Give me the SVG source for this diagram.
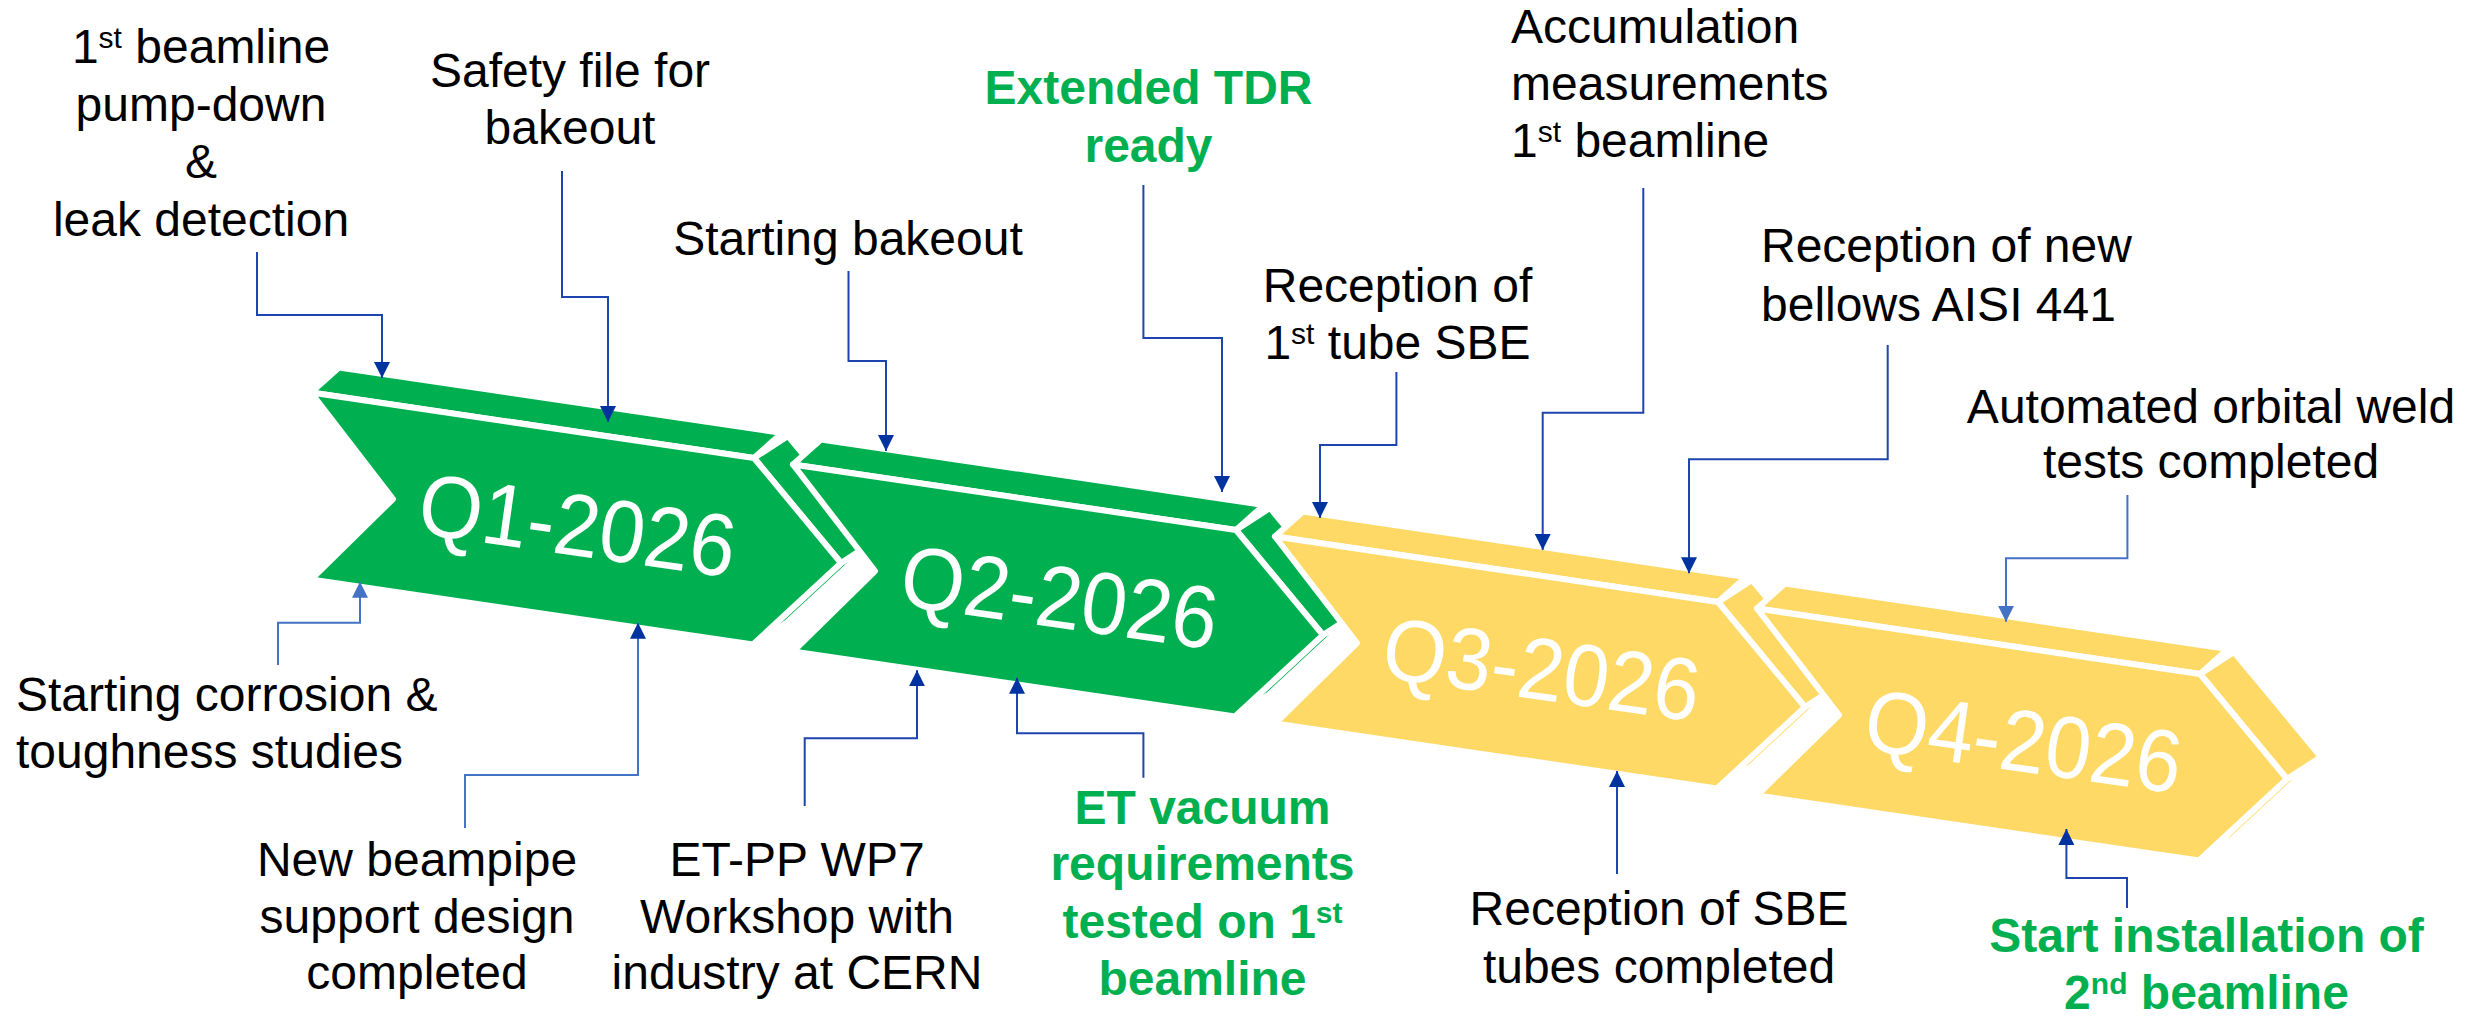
<svg xmlns="http://www.w3.org/2000/svg" width="2483" height="1021" viewBox="0 0 2483 1021">
<style>
.t{font-family:"Liberation Sans",Arial,sans-serif;font-size:48px;fill:#000}
.c{text-anchor:middle}
.g{fill:#00B050;font-weight:bold}
.q{font-family:"Liberation Sans",Arial,sans-serif;font-size:88px;fill:#fff;text-anchor:middle}
.face{stroke:#fff;stroke-width:6;stroke-linejoin:round}
.gr{fill:#00B050}
.ye{fill:#FFD966}
.ld{fill:none;stroke:#1E44B0;stroke-width:2;marker-end:url(#hd)}
.ll{fill:none;stroke:#4472C4;stroke-width:2;marker-end:url(#hl)}
.lm{fill:none;stroke:#4472C4;stroke-width:2;marker-end:url(#hd)}
</style>
<defs>
<marker id="hd" markerUnits="userSpaceOnUse" markerWidth="16" markerHeight="16" viewBox="0 0 16 16" refX="16" refY="8" orient="auto"><path d="M0,0 L16,8 L0,16 z" fill="#0033A0"/></marker>
<marker id="hl" markerUnits="userSpaceOnUse" markerWidth="16" markerHeight="16" viewBox="0 0 16 16" refX="16" refY="8" orient="auto"><path d="M0,0 L16,8 L0,16 z" fill="#4472C4"/></marker>
<g id="chev">
<polygon points="841,563 753,644.5 787,622.5 875,541"/>
<polygon points="754,458 841,563 875,541 788,436"/>
<polygon points="311,392.5 754,458 782,433 339,367.5"/>
<polygon points="311,392.5 754,458 841,563 753,644.5 311,579.5 393,499"/>
</g>
</defs>
<rect width="2483" height="1021" fill="#fff"/>

<g id="q1" class="face gr"><use href="#chev"/><text class="q" stroke="none" transform="translate(573.3,555.4) rotate(8) scale(0.93,1)">Q1-2026</text></g>
<g id="q2" class="face gr"><use href="#chev" transform="translate(482,72)"/><text class="q" stroke="none" transform="translate(1055.3,627.4) rotate(8) scale(0.93,1)">Q2-2026</text></g>
<g id="q3" class="face ye"><use href="#chev" transform="translate(964,144)"/><text class="q" stroke="none" transform="translate(1537.3,699.4) rotate(8) scale(0.93,1)">Q3-2026</text></g>
<g id="q4" class="face ye"><use href="#chev" transform="translate(1446,216)"/><text class="q" stroke="none" transform="translate(2019.3,771.4) rotate(8) scale(0.93,1)">Q4-2026</text></g>

<g id="connectors">
<polyline class="ld" points="257,252 257,315 382,315 382,378"/>
<polyline class="ld" points="562,171 562,297 608,297 608,422"/>
<polyline class="ld" points="848.5,271 848.5,361 886,361 886,451"/>
<polyline class="ld" points="1143.4,185 1143.4,338 1222,338 1222,492"/>
<polyline class="ld" points="1396.4,372 1396.4,445 1320,445 1320,518"/>
<polyline class="ld" points="1643.3,188 1643.3,412.7 1542.7,412.7 1542.7,550"/>
<polyline class="ld" points="1887.7,345 1887.7,459.3 1689,459.3 1689,573.3"/>
<polyline class="ll" points="2127.4,495 2127.4,558.3 2006,558.3 2006,621.7"/>
<polyline class="ll" points="278,665 278,622.7 360,622.7 360,581.7"/>
<polyline class="lm" points="465,828 465,775 638,775 638,622.7"/>
<polyline class="ld" points="804.7,806 804.7,738.3 917,738.3 917,670.3"/>
<polyline class="ld" points="1143.4,777.7 1143.4,733.3 1017,733.3 1017,677.7"/>
<polyline class="ld" points="1617,874 1617,771"/>
<polyline class="ld" points="2127,908 2127,878 2066.4,878 2066.4,829"/>
</g>

<g id="n-pumpdown">
<text class="t c" x="201" y="63">1<tspan font-size="30" dy="-15">st</tspan><tspan dy="15"> beamline</tspan></text>
<text class="t c" x="201" y="120.6">pump-down</text>
<text class="t c" x="201" y="178.2">&amp;</text>
<text class="t c" x="201" y="235.8">leak detection</text>
</g>
<g id="n-safety">
<text class="t c" x="570" y="87.3">Safety file for</text>
<text class="t c" x="570" y="144">bakeout</text>
</g>
<g id="n-startbake">
<text class="t c" x="848" y="255">Starting bakeout</text>
</g>
<g id="n-tdr">
<text class="t c g" x="1148.5" y="104">Extended TDR</text>
<text class="t c g" x="1148.5" y="161.7">ready</text>
</g>
<g id="n-tube">
<text class="t c" x="1397.5" y="301.7">Reception of</text>
<text class="t c" x="1397.5" y="359">1<tspan font-size="30" dy="-15">st</tspan><tspan dy="15"> tube SBE</tspan></text>
</g>
<g id="n-accum">
<text class="t" x="1511" y="43">Accumulation</text>
<text class="t" x="1511" y="100">measurements</text>
<text class="t" x="1511" y="157">1<tspan font-size="30" dy="-15">st</tspan><tspan dy="15"> beamline</tspan></text>
</g>
<g id="n-bellows">
<text class="t" x="1761" y="261.7">Reception of new</text>
<text class="t" x="1761" y="320.7">bellows AISI 441</text>
</g>
<g id="n-weld">
<text class="t c" x="2211" y="422.7">Automated orbital weld</text>
<text class="t c" x="2211" y="478.3">tests completed</text>
</g>
<g id="n-corrosion">
<text class="t" x="16" y="711">Starting corrosion &amp;</text>
<text class="t" x="16" y="767.7">toughness studies</text>
</g>
<g id="n-support">
<text class="t c" x="417" y="876">New beampipe</text>
<text class="t c" x="417" y="932.7">support design</text>
<text class="t c" x="417" y="989">completed</text>
</g>
<g id="n-workshop">
<text class="t c" x="797" y="876">ET-PP WP7</text>
<text class="t c" x="797" y="932.7">Workshop with</text>
<text class="t c" x="797" y="989">industry at CERN</text>
</g>
<g id="n-vacuum">
<text class="t c g" x="1202.5" y="823.7">ET vacuum</text>
<text class="t c g" x="1202.5" y="880">requirements</text>
<text class="t c g" x="1202.5" y="937.7">tested on 1<tspan font-size="30" dy="-15">st</tspan></text>
<text class="t c g" x="1202.5" y="995">beamline</text>
</g>
<g id="n-sbe">
<text class="t c" x="1659" y="925">Reception of SBE</text>
<text class="t c" x="1659" y="982.7">tubes completed</text>
</g>
<g id="n-install">
<text class="t c g" x="2206.5" y="952">Start installation of</text>
<text class="t c g" x="2206.5" y="1009">2<tspan font-size="30" dy="-15">nd</tspan><tspan dy="15"> beamline</tspan></text>
</g>
</svg>
